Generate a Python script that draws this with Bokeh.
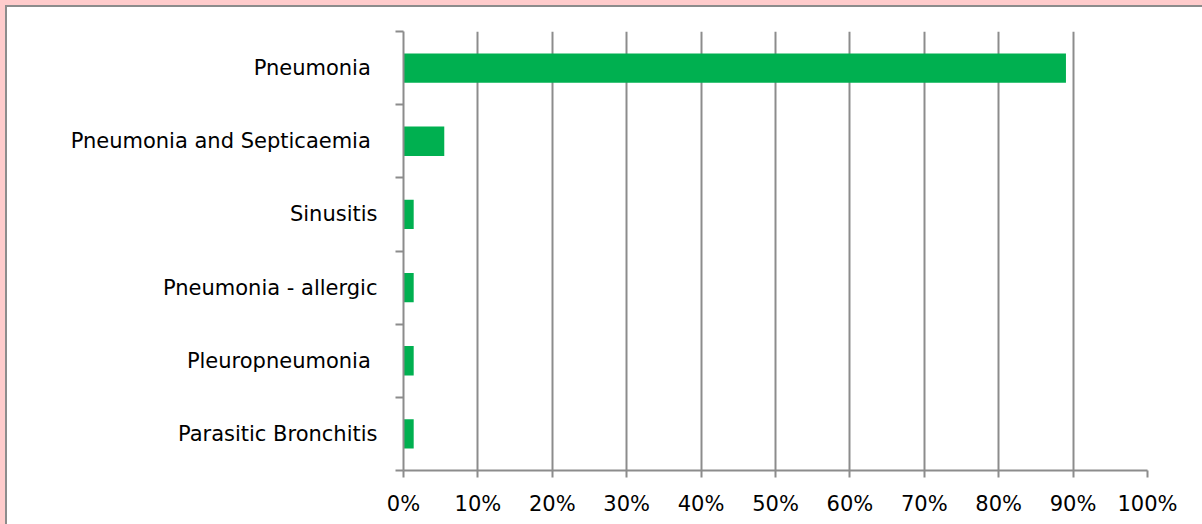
from bokeh.plotting import figure
from bokeh.models import FixedTicker, NumeralTickFormatter, Range1d, ColumnDataSource
from bokeh.embed import file_html
from bokeh.resources import INLINE

# ---- data ----
categories = ["Parasitic Bronchitis", "Pleuropneumonia ", "Pneumonia - allergic",
              "Sinusitis", "Pneumonia  and Septicaemia", "Pneumonia "]
values = [0.0137, 0.0137, 0.0137, 0.0137, 0.0548, 0.8904]
x_ticks = [0, 0.1, 0.2, 0.3, 0.4, 0.5, 0.6, 0.7, 0.8, 0.9, 1.0]

W, H = 1202, 524
FONT = "DejaVu Sans"
FS = "21px"
GRAY = "#8c8c8c"
PINK = "#FFCCCC"

pos = [i + 0.5 for i in range(len(categories))]
src = ColumnDataSource(dict(y=pos, v=values, cat=categories))

p = figure(width=W, height=H, output_backend="svg", toolbar_location=None,
           x_range=Range1d(0, 1), y_range=Range1d(0, len(categories)),
           min_border_left=403, min_border_right=W - 1147, min_border_top=31, min_border_bottom=H - 470,
           background_fill_color="white", border_fill_color=None)
p.outline_line_color = None
p.styles = {
    "background":
        f"linear-gradient({PINK},{PINK}) 0 0 / 100% 5px no-repeat, "
        f"linear-gradient({PINK},{PINK}) 0 0 / 5px 100% no-repeat, "
        f"linear-gradient({GRAY},{GRAY}) 5px 5px / 100% 2px no-repeat, "
        f"linear-gradient({GRAY},{GRAY}) 5px 5px / 2px 100% no-repeat, "
        "white",
}

p.hbar(y="y", right="v", left=0, height=0.4, source=src,
       fill_color="#00B050", line_color=None)

# x axis
xa = p.xaxis[0]
xa.ticker = FixedTicker(ticks=x_ticks)
xa.formatter = NumeralTickFormatter(format="0%")
xa.axis_line_color = GRAY
xa.axis_line_width = 2
xa.major_tick_line_color = GRAY
xa.major_tick_line_width = 2
xa.major_tick_in = 0
xa.major_tick_out = 7
xa.minor_tick_line_color = None
xa.major_label_text_font = FONT
xa.major_label_text_font_size = FS
xa.major_label_text_color = "black"
xa.major_label_standoff = 14

# y axis: labels at centres, tick marks at boundaries (minor ticks)
ya = p.yaxis[0]
ya.ticker = FixedTicker(ticks=pos, minor_ticks=list(range(len(categories) + 1)))
ya.major_label_overrides = {pos[i]: categories[i] for i in range(len(categories))}
ya.axis_line_color = GRAY
ya.axis_line_width = 2
ya.major_tick_line_color = None
ya.major_tick_in = 0
ya.major_tick_out = 0
ya.minor_tick_line_color = GRAY
ya.minor_tick_line_width = 2
ya.minor_tick_in = 0
ya.minor_tick_out = 8
ya.major_label_text_font = FONT
ya.major_label_text_font_size = FS
ya.major_label_text_color = "black"
ya.major_label_standoff = 18

p.xgrid.ticker = FixedTicker(ticks=x_ticks[1:])
p.xgrid.grid_line_color = GRAY
p.xgrid.grid_line_width = 2
p.ygrid.grid_line_color = None

open("out.html", "w").write(file_html(p, INLINE))
